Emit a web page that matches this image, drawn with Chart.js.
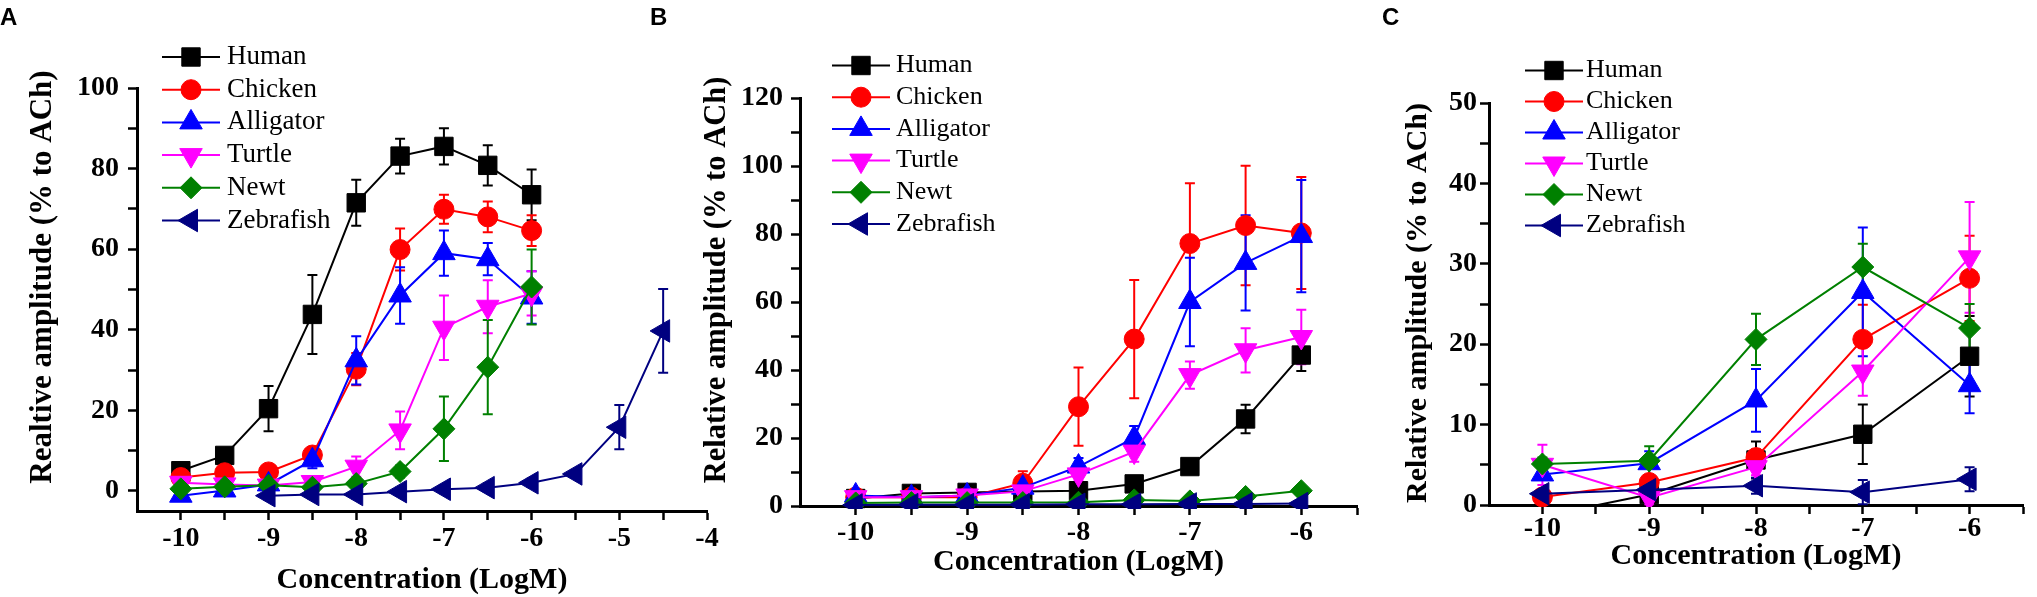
<!DOCTYPE html>
<html>
<head>
<meta charset="utf-8">
<script src="https://cdn.jsdelivr.net/npm/chart.js@4.4.0/dist/chart.umd.min.js"></script>
<style>
  html, body { margin: 0; padding: 0; background: #fff; }
  body { width: 2037px; height: 597px; position: relative; overflow: hidden; }
  .panel { position: absolute; top: 0; height: 597px; }
</style>
</head>
<body>
<div class="panel" style="left:0;width:740px"><canvas id="cA"></canvas></div>
<div class="panel" style="left:640px;width:740px"><canvas id="cB"></canvas></div>
<div class="panel" style="left:1370px;width:667px"><canvas id="cC"></canvas></div>
<script>
// Three dose-response panels (A, B, C), relative amplitude vs log concentration

const species = ['Human', 'Chicken', 'Alligator', 'Turtle', 'Newt', 'Zebrafish'];

// Panel A
const xA = [-10, -9.5, -9, -8.5, -8, -7.5, -7, -6.5, -6, -5.5, -5, -4.5];
const humanA        = [5.0, 8.8, 20.4, 43.8, 71.5, 83.1, 85.5, 80.8, 73.5, null, null, null];
const humanAErr     = [1, 1, 5.6, 9.8, 5.7, 4.3, 4.5, 5, 6.3];
const chickenA      = [3.3, 4.5, 4.7, 8.9, 30.2, 59.9, 69.9, 68, 64.6, null, null, null];
const chickenAErr   = [1, 1, 1, 2, 4, 5.2, 3.6, 3.8, 3.8];
const alligatorA    = [-1.2, 0.1, 1.6, 7.6, 32.4, 48.5, 59, 57.5, 48, null, null, null];
const alligatorAErr = [1, 1, 1, 2, 6, 7, 5.6, 4, 6.5];
const turtleA       = [2.0, 1.6, 1.3, 2.2, 6.0, 15, 40.5, 45.7, 49, null, null, null];
const turtleAErr    = [1, 1, 1, 1, 2.5, 4.7, 8, 6.6, 5.5];
const newtA         = [0.5, 1.0, 1.4, 0.9, 1.8, 4.8, 15.4, 30.7, 50.6, null, null, null];
const newtAErr      = [1, 1, 1, 1, 1, 1.5, 8, 11.7, 9.3];
const zebrafishA    = [null, null, -1.2, -0.9, -0.9, -0.2, 0.4, 0.8, 2.0, 4.2, 15.8, 39.7];
const zebrafishAErr = [0, 0, 1, 1, 1, 1, 1, 1, 1, 1, 5.5, 10.4];

// Panel B
const xB = [-10, -9.5, -9, -8.5, -8, -7.5, -7, -6.5, -6];
const humanB        = [2.2, 3.7, 4.0, 4.3, 4.5, 6.5, 11.6, 25.6, 44.4];
const humanBErr     = [0.5, 0.5, 0.5, 0.5, 0.8, 1, 1.5, 4.2, 4.7];
const chickenB      = [2.6, 2.6, 2.6, 6.7, 29.2, 49.1, 77.2, 82.5, 80.3];
const chickenBErr   = [0.5, 0.5, 0.5, 3.5, 11.5, 17.4, 17.7, 17.6, 16.5];
const alligatorB    = [3.1, 2.6, 3.1, 5.4, 11.6, 20, 60, 71.5, 79.4];
const alligatorBErr = [1.5, 0.5, 1, 1.5, 2.5, 3.5, 13, 14, 16.5];
const turtleB       = [2.6, 2.6, 3.1, 4.3, 9.3, 16, 38.5, 45.8, 49.7];
const turtleBErr    = [0.5, 0.5, 0.5, 1, 2, 3, 4, 6.5, 8];
const newtB         = [0.9, 1.0, 1.0, 1.0, 1.1, 1.8, 1.5, 2.8, 4.5];
const newtBErr      = [0.5, 0.5, 0.5, 0.5, 0.5, 0.8, 0.8, 0.8, 1];
const zebrafishB    = [0.3, 0.4, 0.4, 0.4, 0.5, 0.5, 0.6, 0.6, 0.7];
const zebrafishBErr = [0.3, 0.3, 0.3, 0.3, 0.3, 0.3, 0.3, 0.3, 0.3];

// Panel C
const xC = [-10, -9, -8, -7, -6];
const humanC        = [-1.4, 1.3, 5.6, 8.8, 18.5];
const humanCErr     = [0.5, 0.5, 2.3, 3.7, 5];
const chickenC      = [1.0, 2.8, 5.9, 20.6, 28.2];
const chickenCErr   = [0.5, 0.8, 1, 4.3, 5.3];
const alligatorC    = [3.8, 5.2, 13, 26.5, 14.9];
const alligatorCErr = [0.5, 1.5, 3.9, 8, 3.5];
const turtleC       = [5.0, 0.9, 4.7, 16.6, 30.8];
const turtleCErr    = [2.5, 0.8, 1, 3, 6.9];
const newtC         = [5.1, 5.5, 20.6, 29.6, 22];
const newtCErr      = [0.8, 1.8, 3.2, 2.9, 3];
const zebrafishC    = [1.4, 1.9, 2.4, 1.6, 3.2];
const zebrafishCErr = [0.5, 0.5, 1, 1.5, 1.5];

// Tick positions (labels shown on integer x, and every yLabelStep on y)
const xTicksA = [-10, -9.5, -9, -8.5, -8, -7.5, -7, -6.5, -6, -5.5, -5, -4.5, -4];
const xTicksB = [-10, -9.5, -9, -8.5, -8, -7.5, -7, -6.5, -6, -5.5];
const xTicksC = [-10, -9.5, -9, -8.5, -8, -7.5, -7, -6.5, -6, -5.5];
const yTicksA = [0, 10, 20, 30, 40, 50, 60, 70, 80, 90, 100];
const yTicksB = [0, 10, 20, 30, 40, 50, 60, 70, 80, 90, 100, 110, 120];
const yTicksC = [0, 5, 10, 15, 20, 25, 30, 35, 40, 45, 50];

// series styles
const colors = ['#000000', '#ff0000', '#0000ff', '#ff00ff', '#008000', '#000080'];
const pointStyles = ['rect', 'circle', 'triangle', 'triangle', 'rectRot', 'triangle'];
const rotations = [0, 0, 0, 180, 0, -90];
const radii = [13, 10, 13, 13, 11, 13];

const SERIF = 'Liberation Serif';

const errorBars = {
  id: 'errorBars',
  beforeDatasetsDraw(chart, args, opts) {
    const { ctx, chartArea, scales: { x, y } } = chart;
    ctx.save();
    ctx.beginPath();
    ctx.rect(chartArea.left - 40, 0, chartArea.width + 80, chartArea.bottom + opts.clipBottom);
    ctx.clip();
    ctx.lineWidth = 2;
    chart.data.datasets.forEach(ds => {
      ctx.strokeStyle = ds.borderColor;
      ds.data.forEach((p, i) => {
        const e = ds.errors[i];
        if (p.y == null || !e) return;
        const px = x.getPixelForValue(p.x);
        const top = y.getPixelForValue(p.y + e);
        const bot = y.getPixelForValue(p.y - e);
        ctx.beginPath();
        ctx.moveTo(px, top); ctx.lineTo(px, bot);
        ctx.moveTo(px - 5, top); ctx.lineTo(px + 5, top);
        ctx.moveTo(px - 5, bot); ctx.lineTo(px + 5, bot);
        ctx.stroke();
      });
    });
    ctx.restore();
  }
};

// panel letter, rotated y title and the in-plot legend
const overlay = {
  id: 'overlay',
  afterDraw(chart, args, o) {
    const ctx = chart.ctx;
    ctx.save();
    ctx.fillStyle = '#000';
    ctx.font = 'bold 24px "Liberation Sans"';
    ctx.textAlign = 'left';
    ctx.textBaseline = 'alphabetic';
    ctx.fillText(o.panel, o.panelX, 25);

    ctx.save();
    ctx.translate(o.yTitleX, o.yTitleY);
    ctx.rotate(-Math.PI / 2);
    ctx.font = `bold ${o.yTitleSize}px "${SERIF}"`;
    ctx.textAlign = 'center';
    ctx.textBaseline = 'middle';
    ctx.fillText(o.yTitle, 0, 0);
    ctx.restore();

    chart.data.datasets.forEach((ds, i) => {
      const yy = o.legY + i * o.legDy;
      ctx.strokeStyle = ds.borderColor;
      ctx.lineWidth = 2;
      ctx.beginPath();
      ctx.moveTo(o.legX, yy);
      ctx.lineTo(o.legX + 58, yy);
      ctx.stroke();
      ctx.fillStyle = ds.backgroundColor;
      ctx.lineWidth = 1;
      Chart.helpers.drawPoint(ctx, {
        pointStyle: ds.pointStyle, rotation: ds.pointRotation,
        radius: ds.pointRadius, borderWidth: 1
      }, o.legX + 29, yy);
      ctx.fillStyle = '#000';
      ctx.font = `${o.legSize}px "${SERIF}"`;
      ctx.textAlign = 'left';
      ctx.textBaseline = 'middle';
      ctx.fillText(ds.label, o.legX + o.legText, yy);
    });
    ctx.restore();
  }
};

function buildDatasets(xs, series, errs, clip) {
  return series.map((vals, i) => ({
    label: species[i],
    data: vals.map((v, j) => ({ x: xs[j], y: v })),
    errors: errs[i],
    borderColor: colors[i],
    backgroundColor: colors[i],
    borderWidth: 2,
    pointStyle: pointStyles[i],
    pointRotation: rotations[i],
    pointRadius: radii[i],
    pointHoverRadius: radii[i],
    pointBorderWidth: 1,
    tension: 0,
    spanGaps: false,
    order: 6 - i,
    clip
  }));
}

function makeChart(id, p) {
  return new Chart(document.getElementById(id), {
    type: 'line',
    data: { datasets: buildDatasets(p.xs, p.series, p.errs, p.clip) },
    plugins: [errorBars, overlay],
    options: {
      responsive: true,
      maintainAspectRatio: false,
      animation: false,
      events: [],
      layout: { padding: { top: p.padTop, right: p.padRight, left: 0, bottom: 0 } },
      plugins: {
        legend: { display: false },
        tooltip: { enabled: false },
        errorBars: { clipBottom: p.errClip },
        overlay: p.overlay
      },
      scales: {
        x: {
          type: 'linear',
          min: p.xMin, max: p.xMax,
          afterBuildTicks(s) { s.ticks = p.xTicks.map(v => ({ value: v })); },
          afterFit(s) { s.height = p.xHeight; },
          border: { display: true, color: '#000', width: 3 },
          grid: { display: true, drawOnChartArea: false, drawTicks: true, tickLength: 9, tickWidth: 2.5, tickColor: '#000' },
          ticks: {
            autoSkip: false, maxRotation: 0, color: '#000', padding: p.xTickPad,
            font: { family: SERIF, size: 28, weight: 'bold', lineHeight: 1 },
            callback: v => Number.isInteger(v) ? String(v) : ''
          },
          title: {
            display: true, text: 'Concentration (LogM)', color: '#000',
            font: { family: SERIF, size: 30, weight: 'bold', lineHeight: 1 },
            padding: { top: 0, bottom: p.xTitlePad }
          }
        },
        y: {
          min: p.yMin, max: p.yMax,
          afterBuildTicks(s) { s.ticks = p.yTicks.map(v => ({ value: v })); },
          afterFit(s) { s.width = p.yWidth; },
          border: { display: true, color: '#000', width: 3 },
          grid: { display: true, drawOnChartArea: false, drawTicks: true, tickLength: 9, tickWidth: 2.5, tickColor: '#000' },
          ticks: {
            autoSkip: false, color: '#000', padding: p.yTickPad,
            font: { family: SERIF, size: 28, weight: 'bold', lineHeight: 1 },
            callback: v => v % p.yLabelStep === 0 ? String(v) : ''
          },
          title: { display: false }
        }
      }
    }
  });
}

makeChart('cA', {
  xs: xA,
  series: [humanA, chickenA, alligatorA, turtleA, newtA, zebrafishA],
  errs: [humanAErr, chickenAErr, alligatorAErr, turtleAErr, newtAErr, zebrafishAErr],
  clip: false, errClip: 40,
  xMin: -10.5, xMax: -4, xTicks: xTicksA,
  yMin: -5, yMax: 100, yTicks: yTicksA, yLabelStep: 20,
  padTop: 88, padRight: 33, yWidth: 137, xHeight: 86,
  xTickPad: 5, yTickPad: 9, xTitlePad: 2,
  overlay: {
    panel: 'A', panelX: 0,
    yTitle: 'Realtive amplitude (% to ACh)', yTitleX: 43, yTitleY: 277, yTitleSize: 31,
    legX: 162, legY: 57, legDy: 32.7, legText: 65, legSize: 27
  }
});

makeChart('cB', {
  xs: xB,
  series: [humanB, chickenB, alligatorB, turtleB, newtB, zebrafishB],
  errs: [humanBErr, chickenBErr, alligatorBErr, turtleBErr, newtBErr, zebrafishBErr],
  clip: { left: false, top: false, right: false, bottom: 3 }, errClip: 3,
  xMin: -10.5, xMax: -5.5, xTicks: xTicksB,
  yMin: 0, yMax: 120, yTicks: yTicksB, yLabelStep: 20,
  padTop: 98, padRight: 23, yWidth: 160, xHeight: 91,
  xTickPad: 4, yTickPad: 8, xTitlePad: 20,
  overlay: {
    panel: 'B', panelX: 10,
    yTitle: 'Relative amplitude (% to ACh)', yTitleX: 77, yTitleY: 280, yTitleSize: 30.5,
    legX: 192, legY: 65.5, legDy: 31.7, legText: 64, legSize: 26
  }
});

makeChart('cC', {
  xs: xC,
  series: [humanC, chickenC, alligatorC, turtleC, newtC, zebrafishC],
  errs: [humanCErr, chickenCErr, alligatorCErr, turtleCErr, newtCErr, zebrafishCErr],
  clip: { left: false, top: false, right: false, bottom: 2 }, errClip: 2,
  xMin: -10.5, xMax: -5.5, xTicks: xTicksC,
  yMin: 0, yMax: 50, yTicks: yTicksC, yLabelStep: 10,
  padTop: 103, padRight: 1, yWidth: 119, xHeight: 92,
  xTickPad: 1, yTickPad: 3, xTitlePad: 26,
  overlay: {
    panel: 'C', panelX: 12,
    yTitle: 'Relative amplitude (% to ACh)', yTitleX: 48.5, yTitleY: 303, yTitleSize: 30,
    legX: 155, legY: 70.5, legDy: 31, legText: 61, legSize: 26
  }
});
</script>
</body>
</html>
